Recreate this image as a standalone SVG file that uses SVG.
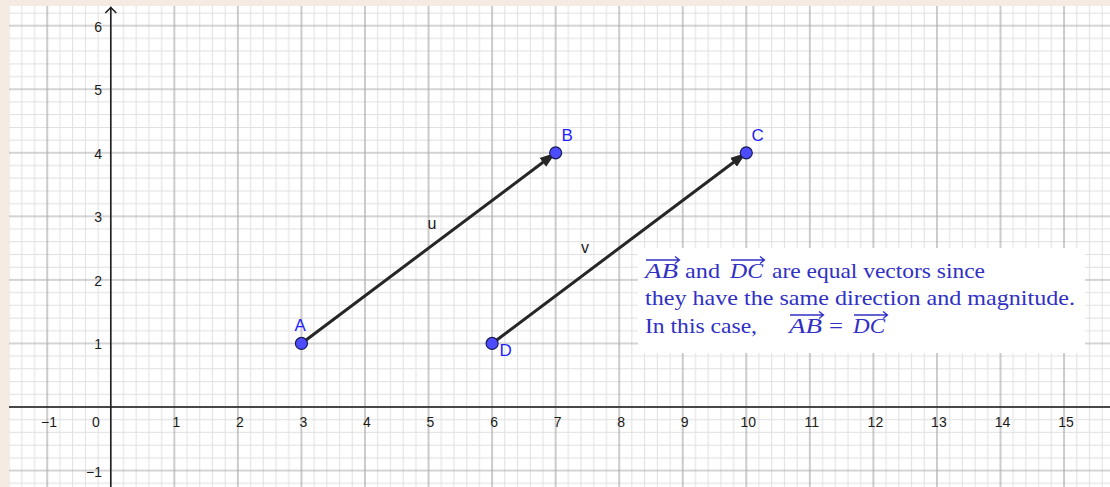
<svg xmlns="http://www.w3.org/2000/svg" width="1110" height="487" viewBox="0 0 1110 487">
<style>
.num{font-family:"Liberation Sans",Arial,sans-serif;font-size:14px;fill:#1a1a1a;text-anchor:middle}
.ynum{font-family:"Liberation Sans",Arial,sans-serif;font-size:14px;fill:#1a1a1a;text-anchor:end}
.plabel{font-family:"Liberation Sans",Arial,sans-serif;font-size:17px;fill:#1f1fff}
.vlabel{font-family:"Liberation Sans",Arial,sans-serif;font-size:16px;fill:#1a1a1a;text-anchor:middle}
.pt{fill:#4d4dff;stroke:#1a1a55;stroke-width:1.2}
.vec{stroke:#262626;stroke-width:3;fill:none;marker-end:url(#ah)}
.tx{font-family:"Liberation Serif","Times New Roman",serif;font-size:22px;fill:#3030c4}
.it{font-style:italic}
.ov{stroke:#3030c4;stroke-width:1.3;fill:none}
.axis{stroke:#1a1a1a;stroke-width:1.5;fill:none}
</style>
<defs>
<pattern id="grid" patternUnits="userSpaceOnUse" x="79.025" y="375.225" width="63.55" height="63.55">
<path d="M6.355 0V63.55M19.065 0V63.55M44.485 0V63.55M57.195 0V63.55M0 6.355H63.55M0 19.065H63.55M0 44.485H63.55M0 57.195H63.55" stroke="#e0e0e0" stroke-width="1" fill="none"/>
<path d="M31.775 0V63.55M0 31.775H63.55" stroke="#aaaaaa" stroke-width="1.2" fill="none"/>
</pattern>
<marker id="ah" markerUnits="userSpaceOnUse" markerWidth="20" markerHeight="14" refX="16" refY="6" orient="auto">
<path d="M0,0.5 L16,6 L0,11.5 Z" fill="#262626"/>
</marker>
</defs>
<rect width="1110" height="487" fill="#f6ebe2"/>
<rect x="9" y="6" width="1101" height="481" fill="#ffffff"/>
<rect x="9" y="6" width="1101" height="481" fill="url(#grid)"/>
<g id="axes">
<path class="axis" d="M9 407H1110"/>
<path class="axis" d="M110.8 487V7.5"/>
<path class="axis" d="M105.3 13L110.8 7.5L116.3 13"/>
</g>
<g id="xlabels">
<text class="num" x="49" y="426.5">−1</text>
<text class="num" x="96" y="426.5">0</text>
<text class="num" x="176.3" y="426.5">1</text>
<text class="num" x="239.9" y="426.5">2</text>
<text class="num" x="303.4" y="426.5">3</text>
<text class="num" x="367" y="426.5">4</text>
<text class="num" x="430.5" y="426.5">5</text>
<text class="num" x="494.1" y="426.5">6</text>
<text class="num" x="557.6" y="426.5">7</text>
<text class="num" x="621.2" y="426.5">8</text>
<text class="num" x="684.7" y="426.5">9</text>
<text class="num" x="748.3" y="426.5">10</text>
<text class="num" x="811.8" y="426.5">11</text>
<text class="num" x="875.4" y="426.5">12</text>
<text class="num" x="938.9" y="426.5">13</text>
<text class="num" x="1002.5" y="426.5">14</text>
<text class="num" x="1066" y="426.5">15</text>
</g>
<g id="ylabels">
<text class="ynum" x="102" y="31.7">6</text>
<text class="ynum" x="102" y="95.2">5</text>
<text class="ynum" x="102" y="158.8">4</text>
<text class="ynum" x="102" y="222.3">3</text>
<text class="ynum" x="102" y="285.9">2</text>
<text class="ynum" x="102" y="349.4">1</text>
<text class="ynum" x="102" y="476.5">−1</text>
</g>
<g id="connectors">
<line id="u" class="vec" x1="301.45" y1="343.45" x2="555.65" y2="152.8"/>
<line id="v" class="vec" x1="492.1" y1="343.45" x2="746.3" y2="152.8"/>
<text class="vlabel" x="432" y="228.5">u</text>
<text class="vlabel" x="585" y="253">v</text>
</g>
<g id="A"><circle class="pt" cx="301.45" cy="343.45" r="6"/><text class="plabel" x="294.5" y="330.5">A</text></g>
<g id="B"><circle class="pt" cx="555.65" cy="152.8" r="6"/><text class="plabel" x="561.5" y="140.5">B</text></g>
<g id="C"><circle class="pt" cx="746.3" cy="152.8" r="6"/><text class="plabel" x="751.5" y="140.5">C</text></g>
<g id="D"><circle class="pt" cx="492.1" cy="343.45" r="6"/><text class="plabel" x="499.5" y="355.5">D</text></g>
<g id="note">
<rect x="638" y="248" width="447" height="105" fill="#ffffff"/>
<text class="tx it" x="645" y="278" textLength="33" lengthAdjust="spacingAndGlyphs">AB</text>
<text class="tx" x="685" y="278" textLength="35" lengthAdjust="spacingAndGlyphs">and</text>
<text class="tx it" x="730" y="278" textLength="33" lengthAdjust="spacingAndGlyphs">DC</text>
<text class="tx" x="772" y="278" textLength="213" lengthAdjust="spacingAndGlyphs">are equal vectors since</text>
<text class="tx" x="645" y="305" textLength="430" lengthAdjust="spacingAndGlyphs">they have the same direction and magnitude.</text>
<text class="tx" x="645" y="333" textLength="112" lengthAdjust="spacingAndGlyphs">In this case,</text>
<text class="tx it" x="789" y="333" textLength="33" lengthAdjust="spacingAndGlyphs">AB</text>
<text class="tx" x="829" y="333" textLength="14" lengthAdjust="spacingAndGlyphs">=</text>
<text class="tx it" x="853" y="333" textLength="32" lengthAdjust="spacingAndGlyphs">DC</text>
<path class="ov" d="M646 260H679M675 256.5L679.5 260L675 263.5"/>
<path class="ov" d="M731 260H764M760 256.5L764.5 260L760 263.5"/>
<path class="ov" d="M790 315H823M819 311.5L823.5 315L819 318.5"/>
<path class="ov" d="M854 315H887M883 311.5L887.5 315L883 318.5"/>
</g>
</svg>
